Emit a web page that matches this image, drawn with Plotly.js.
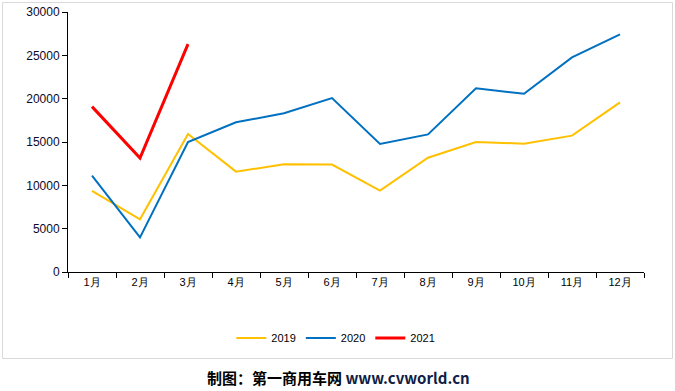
<!DOCTYPE html>
<html><head><meta charset="utf-8">
<script src="https://cdn.plot.ly/plotly-3.0.1.min.js"></script>
<style>html,body{margin:0;padding:0;background:#fff}#c{width:675px;height:391px}</style>
</head><body><div id="c"></div>
<script>
const months = ['1月','2月','3月','4月','5月','6月','7月','8月','9月','10月','11月','12月'];
const y2019 = [9350, 6080, 15920, 11580, 12420, 12400, 9400, 13190, 15000, 14810, 15730, 19580];
const y2020 = [11120, 4000, 15000, 17270, 18310, 20070, 14770, 15880, 21190, 20570, 24770, 27420];
const y2021 = [19080, 13150, 26300];
const months2021 = months.slice(0, 3);
const yTicks = [0, 5000, 10000, 15000, 20000, 25000, 30000];

const traces = [
  {x: months, y: y2019, name: '2019', type: 'scatter', mode: 'lines', line: {color: '#FFC000', width: 2}},
  {x: months, y: y2020, name: '2020', type: 'scatter', mode: 'lines', line: {color: '#0070C0', width: 2}},
  {x: months2021, y: y2021, name: '2021', type: 'scatter', mode: 'lines', line: {color: '#FF0000', width: 3}}
];
const font = {family: 'Liberation Sans, Arial, sans-serif', size: 11, color: '#000'};
const yfont = {family: 'Liberation Sans, Arial, sans-serif', size: 12, color: '#0a0a2a'};
const layout = {
  width: 675, height: 391,
  margin: {l: 68, r: 31, t: 12, b: 119},
  paper_bgcolor: '#fff', plot_bgcolor: '#fff',
  font: font,
  showlegend: true,
  legend: {orientation: 'h', x: 0.465, xanchor: 'center', y: -0.254, yanchor: 'middle',
           font: {family: 'Liberation Sans, Arial, sans-serif', size: 11, color: '#000'},
           itemwidth: 30, tracegroupgap: 0, bgcolor: 'rgba(0,0,0,0)'},
  xaxis: {type: 'category', categoryorder: 'array', categoryarray: months,
          range: [-0.5, 11.5], showline: true, linecolor: '#000', linewidth: 1,
          ticks: 'outside', ticklen: 5, tickcolor: '#000', tickson: 'boundaries',
          showgrid: false, zeroline: false, tickfont: font, fixedrange: true},
  yaxis: {range: [0, 30000], tickvals: yTicks, ticktext: yTicks.map(String),
          showline: true, linecolor: '#000', linewidth: 1,
          ticks: 'outside', ticklen: 5, tickcolor: '#000',
          showgrid: false, zeroline: false, tickfont: yfont, fixedrange: true},
  shapes: [{type: 'rect', xref: 'paper', yref: 'paper',
            x0: (2.5-68)/576, x1: (672.5-68)/576, y0: (272-358.5)/260, y1: (272-2.5)/260,
            line: {color: '#D9D9D9', width: 1}, fillcolor: 'rgba(0,0,0,0)', layer: 'below'}],
  annotations: [{xref: 'paper', yref: 'paper', x: (338-68)/576, y: (272-378)/260,
                 xanchor: 'center', yanchor: 'middle', showarrow: false,
                 text: '<b>制图：第一商用车网 <span style="color:#0F1D45">www.cvworld.cn</span></b>',
                 font: {family: 'Noto Sans CJK SC, sans-serif', size: 15, color: '#000'}}]
};
Plotly.newPlot('c', traces, layout, {displayModeBar: false, staticPlot: true});
</script></body></html>
